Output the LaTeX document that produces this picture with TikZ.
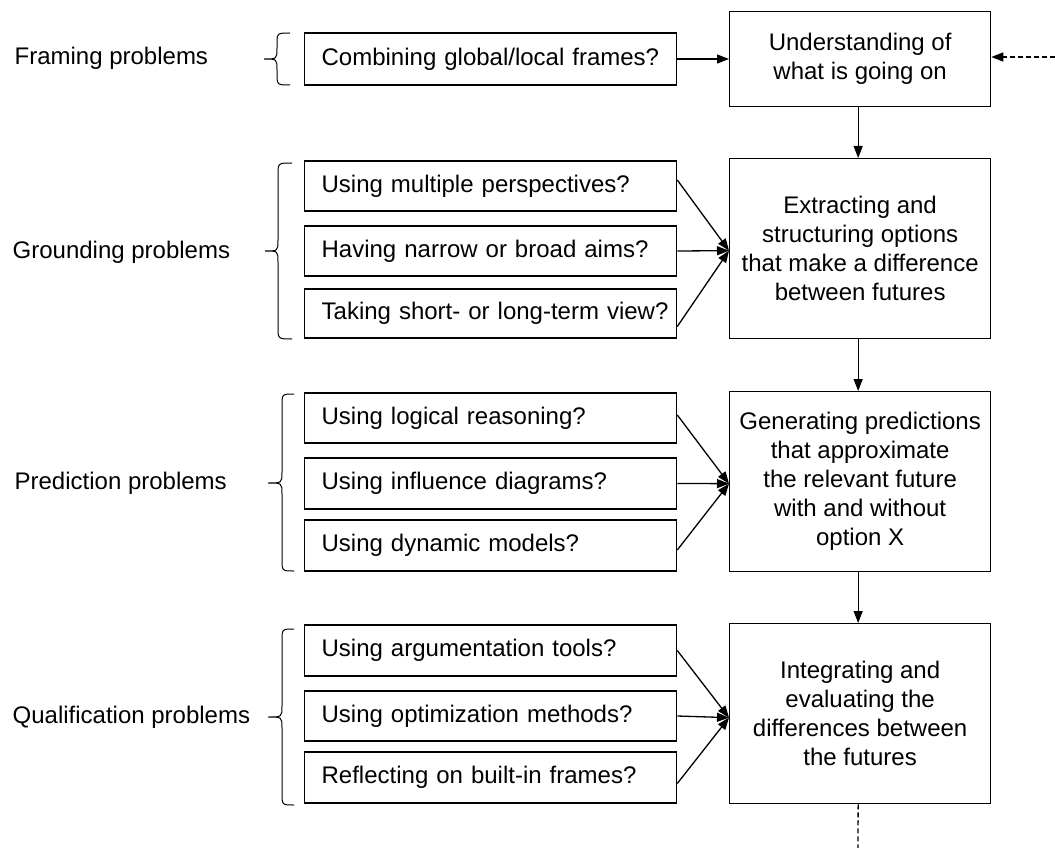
\documentclass[tikz,border=0pt]{standalone}
\usepackage{fontspec}
\setmainfont{Liberation Sans}
\usetikzlibrary{arrows.meta,calc}
\newcommand{\brc}[6]{\draw[line width=1pt] (#1,#4) .. controls (#2,#4) .. (#2,#4+12) -- (#2,#5-11) .. controls (#2,#5) .. (#3,#5) .. controls (#2,#5) .. (#2,#5+11) -- (#2,#6-12) .. controls (#2,#6) .. (#1,#6);}
\begin{document}
\begin{tikzpicture}[x=1pt,y=-1pt,line width=1.3pt,
  txt/.style={font=\fontsize{24}{29}\selectfont},
  qbox/.style={txt,draw,rectangle,text width=338pt,inner xsep=17pt,inner ysep=0pt,align=left,anchor=west},
  sbox/.style={txt,draw,rectangle,minimum width=261pt,inner sep=0pt,align=center,anchor=north west},
  lbl/.style={txt,anchor=west,inner sep=0pt},
  arr/.style={-{Triangle[length=12pt,width=9pt]}},
  dsh/.style={dash pattern=on 5pt off 3pt}]
\useasboundingbox (0,0) rectangle (1055,848);
% labels
\node[lbl] (lf) at (14,58) {Framing problems};
\node[lbl] (lg) at (12,252) {Grounding problems};
\node[lbl] (lp) at (14,483) {Prediction problems};
\node[lbl] (lq) at (12,717) {Qualification problems};
% braces
\brc{290}{277}{264}{33}{59}{85}
\brc{292}{278}{265}{163}{251}{339}
\brc{294}{282}{268}{394}{483}{571}
\brc{294}{282}{268}{629}{717}{805}
% left boxes
\node[qbox,minimum height=52pt] (c) at (304,59) {\mbox{Combining global/local frames?}};
\node[qbox,minimum height=50pt] (g1) at (304,186) {\mbox{Using multiple perspectives?}};
\node[qbox,minimum height=50pt] (g2) at (304,251) {\mbox{Having narrow or broad aims?}};
\node[qbox,minimum height=49pt] (g3) at (304,313.5) {\mbox{Taking short- or long-term view?}};
\node[qbox,minimum height=50pt] (p1) at (304,418) {\mbox{Using logical reasoning?}};
\node[qbox,minimum height=51pt] (p2) at (304,483.5) {\mbox{Using influence diagrams?}};
\node[qbox,minimum height=51pt] (p3) at (304,545.5) {\mbox{Using dynamic models?}};
\node[qbox,minimum height=51pt] (q1) at (304,650.5) {\mbox{Using argumentation tools?}};
\node[qbox,minimum height=50pt] (q2) at (304,716) {\mbox{Using optimization methods?}};
\node[qbox,minimum height=51pt] (q3) at (304,777.5) {\mbox{Reflecting on built-in frames?}};
% right boxes
\node[sbox,minimum height=95pt] (u) at (729,11) {Understanding of\\what is going on};
\node[sbox,minimum height=180pt] (e) at (729,158) {Extracting and\\structuring options\\that make a difference\\between futures};
\node[sbox,minimum height=180pt] (gp) at (729,391) {Generating predictions\\that approximate\\the relevant future\\with and without\\option X};
\node[sbox,minimum height=180pt] (ie) at (729,623) {Integrating and\\evaluating the\\differences between\\the futures};
% connectors
\coordinate (din) at (1055,57);
\coordinate (dout) at (858,848);
\draw[arr] (c.east) -- (c.east -| u.west);
\draw[arr,dsh] (din) -- (din -| u.east);
\draw[arr] ([xshift=-2pt]u.south) -- ([xshift=-2pt]e.north);
\draw[arr] ([xshift=-2pt]e.south) -- ([xshift=-2pt]gp.north);
\draw[arr] ([xshift=-2pt]gp.south) -- ([xshift=-2pt]ie.north);
\draw[dsh] ([xshift=-2pt]ie.south) -- (dout);
\coordinate (et) at ([yshift=-2pt]e.west);
\draw[arr] ([yshift=6pt]g1.east) -- (et);
\draw[arr] (g2.east) -- (et);
\draw[arr] ([yshift=-13pt]g3.east) -- (et);
\coordinate (gt) at ([yshift=-2pt]gp.west);
\draw[arr] ([yshift=3pt]p1.east) -- (gt);
\draw[arr] (p2.east) -- (gt);
\draw[arr] ([yshift=-4.5pt]p3.east) -- (gt);
\coordinate (it) at ([yshift=-4pt]ie.west);
\draw[arr] (q1.east) -- (it);
\draw[arr] (q2.east) -- (it);
\draw[arr] ([yshift=-6pt]q3.east) -- (it);
\end{tikzpicture}
\end{document}
